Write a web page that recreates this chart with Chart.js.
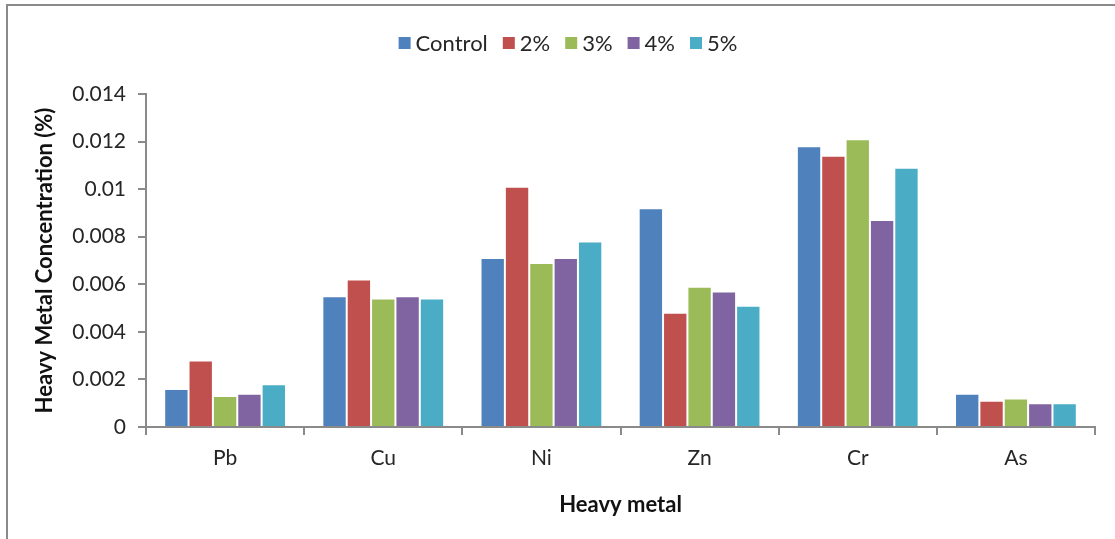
<!DOCTYPE html>
<html>
<head>
<meta charset="utf-8">
<script src="https://cdn.jsdelivr.net/npm/chart.js@4.4.1/dist/chart.umd.min.js"></script>
<style>
  html, body { margin: 0; padding: 0; background: #fff; }
  #wrap { position: relative; width: 1115px; height: 539px; overflow: hidden; }
  #frame { position: absolute; left: 6px; top: 4px; width: 1300px; height: 700px;
           border-top: 2px solid #8a8a8a; border-left: 2px solid #8a8a8a; }
  canvas { position: absolute; left: 0; top: 0; }
</style>
</head>
<body>
<div id="wrap">
  <div id="frame"></div>
  <canvas id="c" width="1115" height="539"></canvas>
</div>
<script>
// Heavy metal concentration (%) by treatment
const metals = ['Pb', 'Cu', 'Ni', 'Zn', 'Cr', 'As'];
const seriesNames = ['Control', '2%', '3%', '4%', '5%'];
const control = [0.0016, 0.0055, 0.0071, 0.0092, 0.0118, 0.0014];
const pct2    = [0.0028, 0.0062, 0.0101, 0.0048, 0.0114, 0.0011];
const pct3    = [0.0013, 0.0054, 0.0069, 0.0059, 0.0121, 0.0012];
const pct4    = [0.0014, 0.0055, 0.0071, 0.0057, 0.0087, 0.0010];
const pct5    = [0.0018, 0.0054, 0.0078, 0.0051, 0.0109, 0.0010];
const yTicks  = [0, 0.002, 0.004, 0.006, 0.008, 0.01, 0.012, 0.014];

const colors = ['#4F81BD', '#C0504D', '#9BBB59', '#8064A2', '#4BACC6'];
const seriesValues = [control, pct2, pct3, pct4, pct5];

const FONT = 'Lato, "Open Sans", sans-serif';
const AXIS = '#8a8a8a';

// Legend drawn as a single centred row of square swatches
const rowLegend = {
  id: 'rowLegend',
  afterDraw(chart) {
    const ctx = chart.ctx;
    const box = 12, gap = 5, spacing = 15, cy = 43, centerX = 568;
    ctx.save();
    ctx.font = '22px ' + FONT;
    ctx.textBaseline = 'middle';
    const items = chart.data.datasets.map(ds => ({
      text: ds.label, color: ds.backgroundColor, w: ctx.measureText(ds.label).width
    }));
    const total = items.reduce((s, it) => s + box + gap + it.w, 0) + spacing * (items.length - 1);
    let x = centerX - total / 2;
    items.forEach(it => {
      ctx.fillStyle = it.color;
      ctx.fillRect(x, cy - box / 2, box, box);
      ctx.fillStyle = '#262626';
      ctx.fillText(it.text, x + box + gap, cy + 1);
      x += box + gap + it.w + spacing;
    });
    ctx.restore();
  }
};

new Chart(document.getElementById('c'), {
  type: 'bar',
  data: {
    labels: metals,
    datasets: seriesNames.map((name, i) => ({
      label: name,
      data: seriesValues[i],
      backgroundColor: colors[i],
      borderColor: 'rgba(255,255,255,0.45)',
      borderWidth: 1,
      categoryPercentage: 0.77,
      barPercentage: 1.0
    }))
  },
  options: {
    responsive: false,
    animation: false,
    devicePixelRatio: 1,
    layout: { padding: { top: 94, left: 25, right: 20, bottom: 0 } },
    plugins: {
      legend: { display: false },
      tooltip: { enabled: false }
    },
    scales: {
      x: {
        grid: { offset: true, drawOnChartArea: false, drawTicks: true, tickLength: 8, color: AXIS, lineWidth: 2 },
        border: { display: true, color: AXIS, width: 2 },
        ticks: { color: '#262626', font: { family: FONT, size: 21 }, padding: 11 },
        title: { display: true, text: 'Heavy metal', color: '#111',
                 font: { family: FONT, size: 22, weight: 'bold' }, padding: { top: 0, bottom: 21 } },
        afterFit(scale) { scale.height = 112; }
      },
      y: {
        min: 0, max: 0.014,
        afterBuildTicks(scale) { scale.ticks = yTicks.map(v => ({ value: v })); },
        grid: { drawOnChartArea: false, drawTicks: true, tickLength: 8, color: AXIS, lineWidth: 2 },
        border: { display: true, color: AXIS, width: 2 },
        ticks: {
          color: '#262626', font: { family: FONT, size: 21 }, padding: 12,
          callback: v => String(Number(v.toFixed(3)))
        },
        title: { display: true, text: 'Heavy Metal Concentration (%)', color: '#111',
                 font: { family: FONT, size: 22, weight: 'bold' }, padding: { top: 7, bottom: 0 } },
        afterFit(scale) { scale.width = 121; }
      }
    }
  },
  plugins: [rowLegend]
});
</script>
</body>
</html>
